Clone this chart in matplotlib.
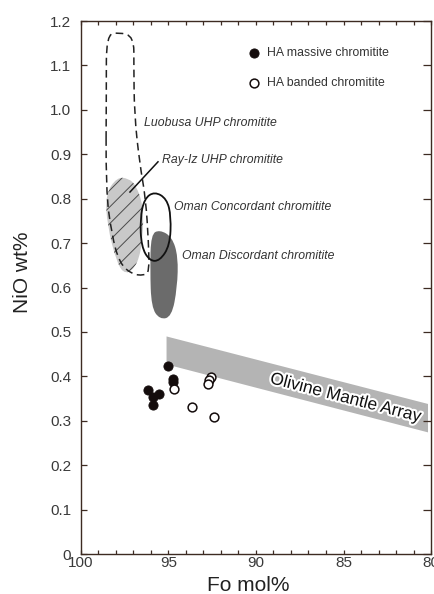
import numpy as np
import matplotlib
matplotlib.use("Agg")
import matplotlib.pyplot as plt
import matplotlib.patheffects as pe
from matplotlib.path import Path
from matplotlib.patches import PathPatch
from matplotlib.ticker import MultipleLocator, FuncFormatter

plt.rcParams['font.family'] = ['Liberation Sans', 'DejaVu Sans']
plt.rcParams['hatch.linewidth'] = 0.7
plt.rcParams['hatch.color'] = '#4a4a4a'

# HA chromitite olivines, Fo mol% vs NiO wt%
massive_fo = [95.01, 94.73, 94.73, 96.15, 95.53, 95.87, 95.90]
massive_nio = [0.423, 0.394, 0.387, 0.369, 0.360, 0.354, 0.336]
banded_fo = [94.67, 92.57, 92.67, 92.73, 93.67, 92.40]
banded_nio = [0.371, 0.399, 0.392, 0.382, 0.330, 0.308]

# outlines of the literature fields
luobusa_fo = [98.55, 98.55, 97.85, 96.98, 96.98, 96.95, 96.65, 96.30, 96.14, 96.10, 96.40, 97.10, 97.80, 98.25, 98.58]
luobusa_nio = [1.05, 1.168, 1.175, 1.165, 1.10, 0.99, 0.88, 0.80, 0.70, 0.635, 0.627, 0.63, 0.655, 0.72, 0.82]

rayiz_fo = [97.95, 97.30, 96.85, 96.45, 96.45, 96.75, 97.45, 97.95, 98.50, 98.60]
rayiz_nio = [0.848, 0.846, 0.83, 0.785, 0.715, 0.652, 0.628, 0.655, 0.74, 0.81]

concordant_fo = [95.80, 95.10, 94.85, 94.92, 95.50, 96.08, 96.55, 96.62, 96.38]
concordant_nio = [0.816, 0.800, 0.76, 0.695, 0.660, 0.660, 0.692, 0.755, 0.800]

discordant_fo = [95.50, 94.80, 94.45, 94.50, 94.82, 95.50, 95.98, 96.05, 96.00]
discordant_nio = [0.730, 0.714, 0.67, 0.60, 0.534, 0.528, 0.556, 0.64, 0.720]

# Olivine Mantle Array band
band_fo = [95.14, 80.2]
band_low = [0.428, 0.275]
band_high = [0.491, 0.339]

# Ray-Iz leader line
leader_fo = [95.6, 97.2]
leader_nio = [0.883, 0.815]


def smooth_outline(xs, ys):
    # closed quadratic b-spline through the edge midpoints
    pts = np.column_stack([xs, ys])
    mids = (pts + np.roll(pts, -1, axis=0)) / 2
    verts = [mids[-1]]
    codes = [Path.MOVETO]
    for p, m in zip(pts, mids):
        verts += [p, m]
        codes += [Path.CURVE3, Path.CURVE3]
    return Path(verts, codes)


axcol = '#3d2b22'
txtcol = '#333333'

fig = plt.figure(figsize=(4.34, 5.94), dpi=100)
ax = fig.add_axes([0.1866, 0.0673, 0.8065, 0.8973])

ax.fill_between(band_fo, band_low, band_high, color='#b4b4b4', lw=0, zorder=1)

ax.add_patch(PathPatch(smooth_outline(rayiz_fo, rayiz_nio), facecolor='#c9c9c9',
                       edgecolor='#4a4a4a', lw=0, hatch='//', zorder=2))
ax.add_patch(PathPatch(smooth_outline(discordant_fo, discordant_nio), facecolor='#6b6b6b',
                       edgecolor='none', zorder=2))
ax.add_patch(PathPatch(smooth_outline(luobusa_fo, luobusa_nio), facecolor='none',
                       edgecolor='#222222', lw=1.1, linestyle=(0, (5, 3)), zorder=3))
ax.add_patch(PathPatch(smooth_outline(concordant_fo, concordant_nio), facecolor='none',
                       edgecolor='#111111', lw=1.3, zorder=3))
ax.plot(leader_fo, leader_nio, color='#111111', lw=1.1, zorder=3)

ax.scatter(massive_fo, massive_nio, s=44, c='#140c0c', edgecolors='#140c0c', linewidths=0.6,
           zorder=5, label='HA massive chromitite')
ax.scatter(banded_fo, banded_nio, s=40, c='white', edgecolors='#140c0c', linewidths=1.1,
           zorder=6, label='HA banded chromitite')

lab = dict(fontsize=8.8, style='italic', color=txtcol, va='center', ha='left', zorder=4)
ax.text(96.4, 0.971, 'Luobusa UHP chromitite', **lab)
ax.text(95.37, 0.886, 'Ray-Iz UHP chromitite', **lab)
ax.text(94.67, 0.782, 'Oman Concordant chromitite', **lab)
ax.text(94.25, 0.670, 'Oman Discordant chromitite', **lab)

ax.text(84.87, 0.351, 'Olivine Mantle Array', fontsize=12.5, color='#111111', rotation=-14.5,
        ha='center', va='center', rotation_mode='anchor', zorder=4,
        path_effects=[pe.withStroke(linewidth=3, foreground='white')])

ax.legend(loc='upper left', bbox_to_anchor=(0.477, 0.951), frameon=False, borderpad=0,
          borderaxespad=0, handlelength=1.0, handletextpad=0.55, labelspacing=1.5,
          fontsize=8.8, scatterpoints=1, labelcolor=txtcol)

ax.set_xlim(100, 80)
ax.set_ylim(0, 1.2)
ax.xaxis.set_major_locator(MultipleLocator(5))
ax.xaxis.set_minor_locator(MultipleLocator(1))
ax.yaxis.set_major_locator(MultipleLocator(0.1))
ax.yaxis.set_major_formatter(FuncFormatter(lambda v, p: '0' if abs(v) < 1e-9 else '%.1f' % v))

for s in ax.spines.values():
    s.set_color(axcol)
    s.set_linewidth(1.0)
ax.tick_params(axis='both', which='both', direction='in', top=True, right=True,
               color=axcol, width=0.9, labelsize=11, labelcolor='#3a3a3a')
ax.tick_params(axis='x', which='both', length=2.6, pad=1.5)
ax.tick_params(axis='y', which='major', length=4.3, pad=7)
for t in ax.yaxis.get_major_ticks():
    t.tick2line.set_markersize(6)
    v = t.get_loc()
    if abs(v - 1.0) < 1e-6 or abs(v - 0.5) < 1e-6:
        t.tick1line.set_markersize(7.2)
for t in ax.xaxis.get_major_ticks():
    if abs(t.get_loc() - 90) < 1e-6:
        t.tick2line.set_markersize(4.5)

ax.set_xlabel('Fo mol%', fontsize=15, color='#222222')
ax.set_ylabel('NiO wt%', fontsize=15, color='#222222')
ax.xaxis.set_label_coords(0.477, -0.041)
ax.yaxis.set_label_coords(-0.139, 0.528)

fig.savefig('out.png', dpi=100)
